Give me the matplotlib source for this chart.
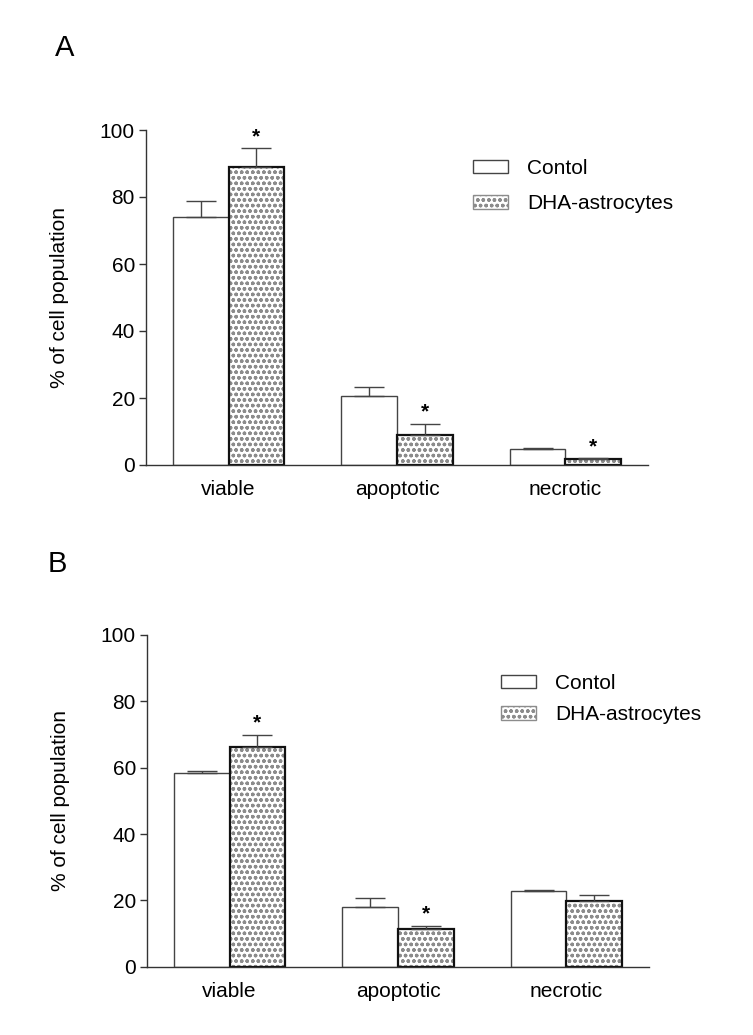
import numpy as np
import matplotlib.pyplot as plt
from matplotlib.patches import Rectangle

plt.rcParams['font.family'] = ['Liberation Sans', 'DejaVu Sans']
plt.rcParams['hatch.linewidth'] = 1.0

categories = ["viable", "apoptotic", "necrotic"]
series_names = ["Contol", "DHA-astrocytes"]

# panel A
ctrl_A = [74.1, 20.6, 4.7]
ctrl_err_A = [4.8, 2.6, 0.3]
dha_A = [88.9, 9.0, 1.7]
dha_err_A = [5.6, 3.2, 0.3]
sig_A = [True, True, True]

# panel B
ctrl_B = [58.3, 17.9, 22.8]
ctrl_err_B = [0.8, 2.7, 0.4]
dha_B = [66.1, 11.3, 19.9]
dha_err_B = [3.8, 1.0, 1.6]
sig_B = [True, True, False]

W, H = 753, 1035
fig = plt.figure(figsize=(W / 100, H / 100), dpi=100)

FS = 15
width = 0.33
x = np.arange(len(categories))
HATCH = 'ooo'
HATCH_COLOR = '#8c8c8c'


def draw_panel(rect, ctrl, ctrl_err, dha, dha_err, sig, leg_anchor, leg_spacing):
    ax = fig.add_axes(rect)
    ax.bar(x - width / 2, ctrl, width, color='white', edgecolor='#444444', linewidth=1.0)
    # hatch first (grey), then black outline on top
    ax.bar(x + width / 2, dha, width, color='white', edgecolor=HATCH_COLOR, linewidth=0, hatch=HATCH)
    ax.bar(x + width / 2, dha, width, fill=False, edgecolor='#111111', linewidth=1.6)
    ax.errorbar(x - width / 2, ctrl, yerr=[np.zeros(len(ctrl)), ctrl_err], fmt='none',
                ecolor='#444444', elinewidth=1.0, capsize=10.5, capthick=1.0)
    ax.errorbar(x + width / 2, dha, yerr=[np.zeros(len(dha)), dha_err], fmt='none',
                ecolor='#444444', elinewidth=1.0, capsize=10.5, capthick=1.0)
    for i, s in enumerate(sig):
        if s:
            ax.annotate('*', (x[i] + width / 2, dha[i] + dha_err[i]), xytext=(0, 4.5),
                        textcoords='offset points', ha='center', va='baseline',
                        fontsize=FS, fontweight='bold')
    ax.set_xlim(-0.49, 2.49)
    ax.set_ylim(0, 100)
    ax.set_yticks([0, 20, 40, 60, 80, 100])
    ax.set_xticks(x)
    ax.set_xticklabels(categories)
    ax.tick_params(axis='x', length=0, pad=11, labelsize=FS)
    ax.tick_params(axis='y', length=5, width=1.0, color='#333333', pad=3, labelsize=FS)
    for side in ['top', 'right']:
        ax.spines[side].set_visible(False)
    for side in ['left', 'bottom']:
        ax.spines[side].set_color('#333333')
        ax.spines[side].set_linewidth(1.0)
    ax.set_ylabel('% of cell population', fontsize=FS, labelpad=22)
    handles = [Rectangle((0, 0), 1, 1, facecolor='white', edgecolor='#444444', linewidth=1.0),
               Rectangle((0, 0), 1, 1, facecolor='white', edgecolor=HATCH_COLOR, linewidth=1.0,
                         hatch=HATCH)]
    ax.legend(handles, series_names, loc='upper left', bbox_to_anchor=leg_anchor, frameon=False,
              fontsize=FS, borderpad=0, borderaxespad=0, handlelength=1.7, handleheight=0.65,
              handletextpad=0.9, labelspacing=leg_spacing)
    return ax


draw_panel([146 / W, 1 - 465 / H, 502 / W, 335 / H], ctrl_A, ctrl_err_A, dha_A, dha_err_A, sig_A,
           (0.651, 0.914), 0.8)
draw_panel([147 / W, 1 - 966.7 / H, 502 / W, 331.7 / H], ctrl_B, ctrl_err_B, dha_B, dha_err_B, sig_B,
           (0.705, 0.883), 0.59)

fig.text(55 / W, 1 - 56 / H, 'A', fontsize=21, va='baseline', ha='left')
fig.text(48 / W, 1 - 572 / H, 'B', fontsize=21, va='baseline', ha='left')

fig.savefig('out.png', dpi=100)
